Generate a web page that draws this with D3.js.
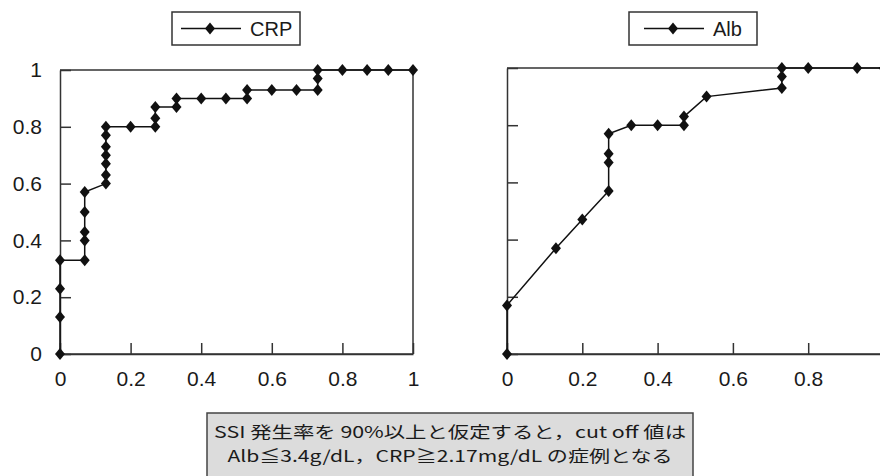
<!DOCTYPE html>
<html>
<head>
<meta charset="utf-8">
<script src="https://cdn.jsdelivr.net/npm/d3@7"></script>
<style>
  body { margin: 0; background: #fff; }
  svg { display: block; font-family: "Liberation Sans", Arial, sans-serif; }
  .axis text { font-size: 21px; fill: #1a1a1a; }
  .axis path, .axis line { stroke: #333; stroke-width: 1.5px; }
</style>
</head>
<body>
<svg width="880" height="476"></svg>
<script>
// ROC points (x = 1 - specificity, y = sensitivity)
var crpX = [0, 0, 0, 0, 0.07, 0.07, 0.07, 0.07, 0.07, 0.13, 0.13, 0.13, 0.13, 0.13, 0.13, 0.13,
            0.20, 0.27, 0.27, 0.27, 0.33, 0.33, 0.40, 0.47, 0.53, 0.53, 0.60, 0.67, 0.73, 0.73, 0.73,
            0.80, 0.87, 0.93, 1];
var crpY = [0, 0.13, 0.23, 0.33, 0.33, 0.40, 0.43, 0.50, 0.57, 0.60, 0.63, 0.67, 0.70, 0.73, 0.77, 0.80,
            0.80, 0.80, 0.83, 0.87, 0.87, 0.90, 0.90, 0.90, 0.90, 0.93, 0.93, 0.93, 0.93, 0.97, 1,
            1, 1, 1, 1];

var albX = [0, 0, 0.13, 0.20, 0.27, 0.27, 0.27, 0.27, 0.33, 0.40, 0.47, 0.47, 0.53, 0.73, 0.73, 0.73,
            0.80, 0.93, 1];
var albY = [0, 0.17, 0.37, 0.47, 0.57, 0.67, 0.70, 0.77, 0.80, 0.80, 0.80, 0.83, 0.90, 0.93, 0.97, 1,
            1, 1, 1];

var seriesNames = ['CRP', 'Alb'];
var tickVals = [0, 0.2, 0.4, 0.6, 0.8, 1];
// the right panel is cropped at the window edge, its "1" is not visible
var tickValsCut = [0, 0.2, 0.4, 0.6, 0.8];
var noteLines = ['SSI 発生率を 90%以上と仮定すると，cut off 値は',
                 'Alb≦3.4g/dL，CRP≧2.17mg/dL の症例となる'];

var svg = d3.select('svg');

// diamond marker, a bit taller than wide
var diamond = {
    draw: function(ctx, size) {
        ctx.moveTo(0, -6);
        ctx.lineTo(5, 0);
        ctx.lineTo(0, 6);
        ctx.lineTo(-5, 0);
        ctx.closePath();
    }
};
var markerPath = d3.symbol().type(diamond)();

var panels = [
    { name: seriesNames[0], xs: crpX, ys: crpY, x0: 60, x1: 413, yTop: 70, showY: true,
      xticks: tickVals, legendX: 172, pad: 0 },
    { name: seriesNames[1], xs: albX, ys: albY, x0: 507, x1: 883.5, yTop: 68, showY: false,
      xticks: tickValsCut, legendX: 629, pad: 6 }
];

panels.forEach(function(p) {

    var scaleX = d3.scaleLinear().domain([0, 1]).range([p.x0, p.x1]);
    var scaleY = d3.scaleLinear().domain([0, 1]).range([354, p.yTop]);

    var g = svg.append('g');

    // top and right of the frame
    g.append('path')
        .attr('d', 'M' + scaleX(0) + ',' + scaleY(1) + 'H' + scaleX(1) + 'V' + scaleY(0))
        .attr('fill', 'none')
        .attr('stroke', '#333')
        .attr('stroke-width', 1.5);

    g.append('g')
        .attr('class', 'axis')
        .attr('transform', 'translate(0,354)')
        .call(d3.axisBottom(scaleX)
            .tickValues(p.xticks)
            .tickFormat(d3.format('~g'))
            .tickSizeInner(-11)
            .tickSizeOuter(0)
            .tickPadding(17));

    g.append('g')
        .attr('class', 'axis')
        .attr('transform', 'translate(' + p.x0 + ',0)')
        .call(d3.axisLeft(scaleY)
            .tickValues(tickVals)
            .tickFormat(p.showY ? d3.format('~g') : '')
            .tickSizeInner(-11)
            .tickSizeOuter(0)
            .tickPadding(18));

    // bottom axis line across the full width
    g.append('line')
        .attr('x1', scaleX(0)).attr('x2', scaleX(1))
        .attr('y1', 354).attr('y2', 354)
        .attr('stroke', '#333')
        .attr('stroke-width', 1.5);

    var pts = p.xs.map(function(x, i) { return [x, p.ys[i]]; });

    g.append('path')
        .datum(pts)
        .attr('fill', 'none')
        .attr('stroke', '#111')
        .attr('stroke-width', 1.5)
        .attr('d', d3.line()
            .x(function(d) { return scaleX(d[0]); })
            .y(function(d) { return scaleY(d[1]); }));

    g.selectAll('.mark')
        .data(pts)
        .enter()
        .append('path')
        .attr('class', 'mark')
        .attr('d', markerPath)
        .attr('fill', '#111')
        .attr('transform', function(d) {
            return 'translate(' + scaleX(d[0]) + ',' + scaleY(d[1]) + ')';
        });

    // legend box
    var lg = svg.append('g').attr('transform', 'translate(' + p.legendX + ',12)');
    lg.append('rect')
        .attr('width', 128)
        .attr('height', 33)
        .attr('fill', '#fff')
        .attr('stroke', '#333')
        .attr('stroke-width', 1.5);
    lg.append('line')
        .attr('x1', 9 + p.pad).attr('x2', 69 + p.pad)
        .attr('y1', 16.5).attr('y2', 16.5)
        .attr('stroke', '#111')
        .attr('stroke-width', 1.5);
    lg.append('path')
        .attr('d', markerPath)
        .attr('fill', '#111')
        .attr('transform', 'translate(' + (38 + p.pad) + ',16.5)');
    lg.append('text')
        .attr('x', 78 + p.pad)
        .attr('y', 24)
        .attr('font-size', 20)
        .attr('fill', '#1a1a1a')
        .text(p.name);
});

// note box under the charts
svg.append('rect')
    .attr('x', 207)
    .attr('y', 413)
    .attr('width', 486)
    .attr('height', 70)
    .attr('fill', '#dcdcdc')
    .attr('stroke', '#444')
    .attr('stroke-width', 1.5);

var lens = [472, 445];
svg.selectAll('.note')
    .data(noteLines)
    .enter()
    .append('text')
    .attr('class', 'note')
    .attr('x', 450)
    .attr('y', function(d, i) { return 438 + i * 23.5; })
    .attr('text-anchor', 'middle')
    .attr('font-family', '"Noto Sans CJK JP", sans-serif')
    .attr('font-size', 16)
    .attr('fill', '#1a1a1a')
    .attr('textLength', function(d, i) { return lens[i]; })
    .attr('lengthAdjust', 'spacingAndGlyphs')
    .text(function(d) { return d; });
</script>
</body>
</html>
